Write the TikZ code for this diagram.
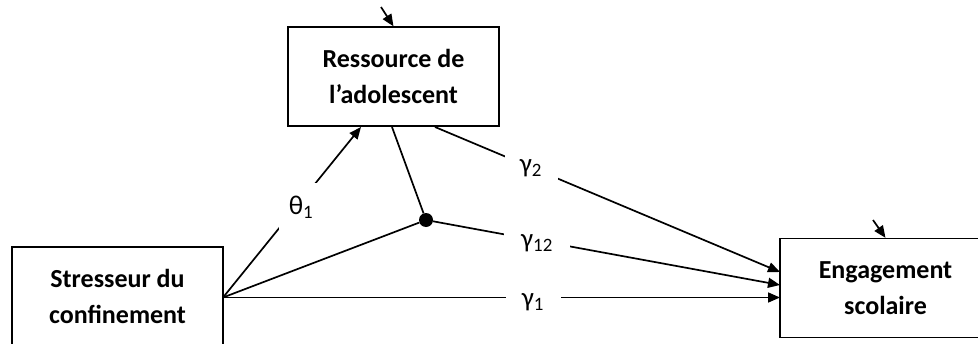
\documentclass[tikz,border=0pt]{standalone}
\usepackage{fontspec}
\setmainfont{Carlito}
\usetikzlibrary{arrows.meta}
\begin{document}
\begin{tikzpicture}[x=1pt,y=-1pt,
  box/.style={draw, line width=1.3pt, minimum width=211pt, minimum height=99pt, align=center,
    font=\fontsize{26}{36}\selectfont\bfseries, inner sep=0pt},
  conn/.style={line width=1.7pt},
  arr/.style={conn, -{Triangle[length=12pt,width=10pt]}},
  lab/.style={fill=white, font=\fontsize{27}{28}\selectfont, inner sep=0pt}]
\useasboundingbox (0,0) rectangle (978,343);
\clip (0,0) rectangle (978,343);
% boxes
\node[box] (res) at (393.5,76.5) {Ressource de\\l’adolescent};
\node[box] (str) at (117.5,296.5) {Stresseur du\\confinement};
\node[box] (eng) at (885.5,288) {Engagement\\scolaire};
% points
\coordinate (s) at (223,297.5);
\coordinate (rt) at (361,127);
\coordinate (rm) at (392,127);
\coordinate (r2) at (435,127);
\coordinate (e1) at (780,272);
\coordinate (e2) at (780,285);
\coordinate (e3) at (780,297.5);
\coordinate (ra) at (381,7);
\coordinate (ea) at (873,220);
\node[circle, fill=black, inner sep=0pt, minimum size=14pt] (dot) at (426,220) {};
% connectors
\draw[arr] (s) -- (rt);
\draw[conn] (s) -- (dot);
\draw[conn] (rm) -- (dot);
\draw[arr] (dot) -- (e2);
\draw[arr] (r2) -- (e1);
\draw[arr] (s) -- (e3);
\draw[arr] (ra) -- (res.north);
\draw[arr] (ea) -- (eng.north);
% labels
\node[lab, minimum width=44pt, minimum height=48pt] (th1) at (301,207) {θ\textsubscript{1}};
\node[lab, minimum width=53pt, minimum height=30pt] (g2) at (531,168) {γ\textsubscript{2}};
\node[lab, minimum width=66pt, minimum height=30pt] (g12) at (537,243) {γ\textsubscript{12}};
\node[lab, minimum width=55pt, minimum height=24pt] (g1) at (533,302) {γ\textsubscript{1}};
\end{tikzpicture}
\end{document}
